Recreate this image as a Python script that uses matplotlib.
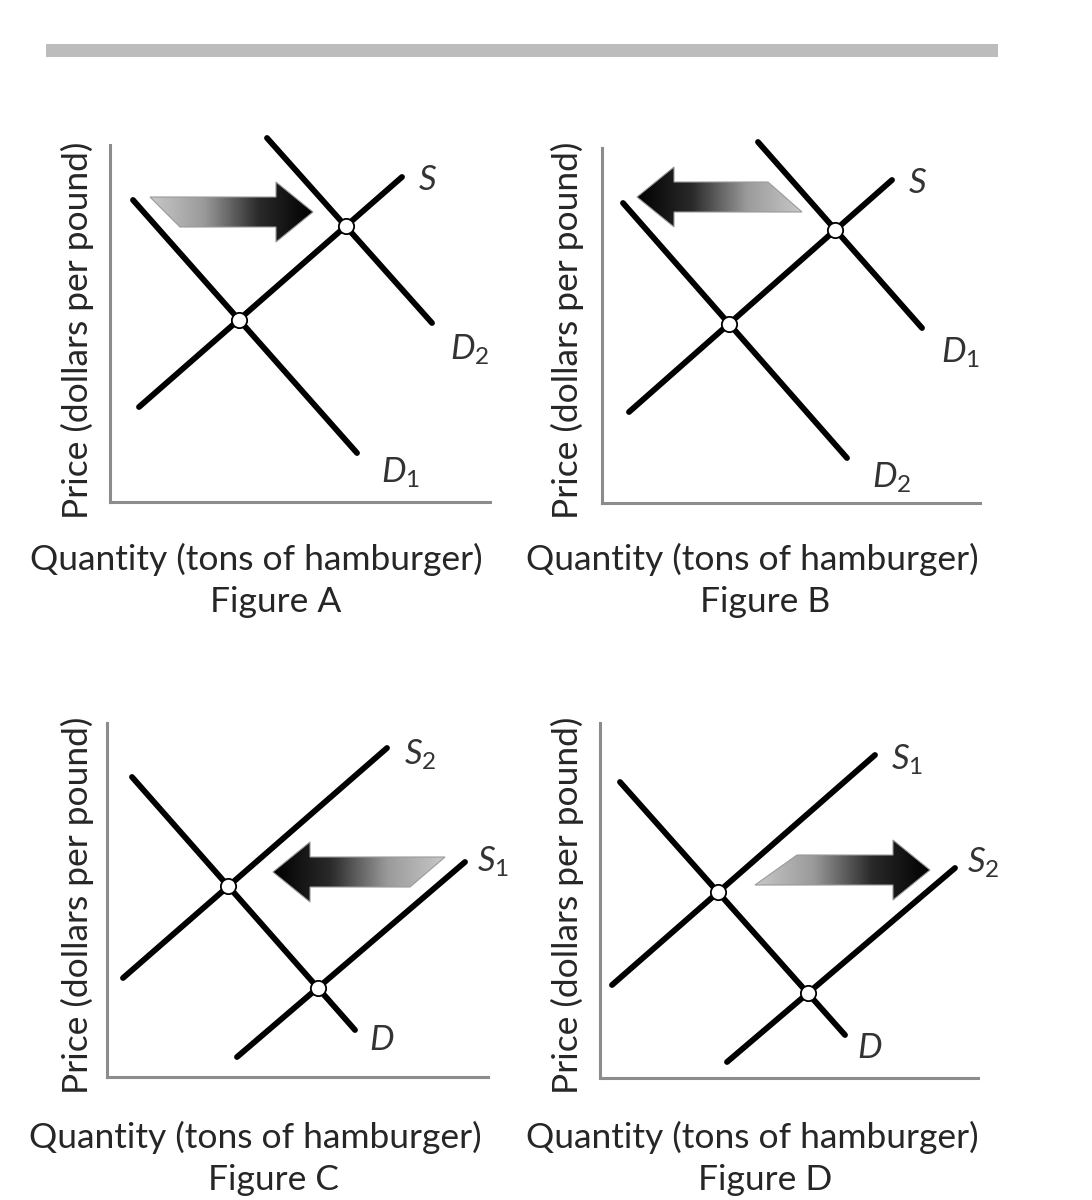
import numpy as np
import matplotlib.pyplot as plt
from matplotlib.path import Path
from matplotlib.patches import PathPatch, Rectangle
from matplotlib.colors import LinearSegmentedColormap

plt.rcParams['font.family'] = ['Lato', 'DejaVu Sans']
plt.rcParams['mathtext.fontset'] = 'custom'
plt.rcParams['mathtext.it'] = 'Lato:italic'
plt.rcParams['mathtext.rm'] = 'Lato'

W, H = 1092, 1200

# --- data (quantity / price in arbitrary units) ---
panels = ["A", "B", "C", "D"]
x_label = "Quantity (tons of hamburger)"
y_label = "Price (dollars per pound)"

# each curve: label, start point (q, p), end point (q, p)
curves_A = [("D_1", (2.3, 30.2), (24.7, 4.9)),
            ("S", (2.9, 9.5), (29.2, 32.5)),
            ("D_2", (15.7, 36.4), (32.2, 17.9))]
curves_B = [("D_2", (2.1, 30.0), (24.5, 4.5)),
            ("S", (2.7, 9.1), (29.0, 32.3)),
            ("D_1", (15.6, 36.1), (32.0, 17.5))]
curves_C = [("D", (2.5, 30.0), (24.8, 4.7)),
            ("S_2", (1.6, 9.9), (28.0, 32.9)),
            ("S_1", (13.0, 2.0), (35.8, 21.5))]
curves_D = [("D", (2.0, 29.6), (24.5, 4.3)),
            ("S_1", (1.2, 9.3), (27.5, 32.3)),
            ("S_2", (12.7, 1.6), (35.5, 21.0))]
all_curves = [curves_A, curves_B, curves_C, curves_D]

# shift arrows: tail top q, tail bottom q, tip q, price level
shifts = [(4.0, 7.0, 20.3, 29.0),
          (16.6, 20.0, 3.5, 30.6),
          (33.8, 30.3, 16.6, 20.5),
          (19.7, 15.5, 33.0, 20.8)]

# --- layout (pixels) ---
origins = [(110, 502), (602, 503), (107, 1077), (600, 1078)]
axis_len = [(380, 357), (378, 355), (381, 354), (378, 355)]
label_off = [{"D_1": (4.3, -2.0), "S": (2.6, -0.3), "D_2": (3.8, -2.7)},
             {"D_2": (4.5, -2.0), "S": (2.6, -0.3), "D_1": (3.8, -2.5)},
             {"D": (2.7, -1.0), "S_2": (3.3, -0.7), "S_1": (2.8, 0.0)},
             {"D": (2.5, -1.3), "S_1": (3.2, -0.5), "S_2": (2.8, 0.5)}]
xlab_pos = [(30, 570), (526, 570), (29, 1148), (526, 1148)]
fig_pos = [(276, 612), (765, 612), (273, 1190), (765, 1190)]
ylab_pos = [(77, 330), (567, 330), (77, 905), (567, 905)]

ink = "#262626"
arrow_cmap = LinearSegmentedColormap.from_list("arr", ["#c8c8c8", "#9a9a9a", "#2a2a2a", "#000000"])


def intersect(a, b):
    (x1, y1), (x2, y2) = a
    (x3, y3), (x4, y4) = b
    m1 = (y2 - y1) / (x2 - x1)
    m2 = (y4 - y3) / (x4 - x3)
    x = (y3 - y1 + m1 * x1 - m2 * x3) / (m1 - m2)
    return x, y1 + m1 * (x - x1)


def draw_arrow(ax, top_q, bot_q, tip_q, p):
    d = 1 if tip_q > top_q else -1
    base = tip_q - d * 3.7
    verts = [(top_q, p + 1.5), (base, p + 1.5), (base, p + 3.0), (tip_q, p),
             (base, p - 3.0), (base, p - 1.5), (bot_q, p - 1.5), (top_q, p + 1.5)]
    codes = [Path.MOVETO] + [Path.LINETO] * 6 + [Path.CLOSEPOLY]
    patch = PathPatch(Path(verts, codes), facecolor="none", edgecolor="#9a9a9a",
                      lw=0.8, zorder=4)
    ax.add_patch(patch)
    grad = np.linspace(0, 1, 256).reshape(1, -1)
    if d < 0:
        grad = grad[:, ::-1]
    xs = [v[0] for v in verts]
    im = ax.imshow(grad, extent=[min(xs), max(xs), p - 3.0, p + 3.0], cmap=arrow_cmap,
                   aspect="auto", zorder=3, interpolation="bilinear")
    im.set_clip_path(patch)


fig = plt.figure(figsize=(W / 100, H / 100), dpi=100)
fig.add_artist(Rectangle((46 / W, 1 - 57 / H), 952 / W, 13 / H, transform=fig.transFigure,
                         facecolor="#bcbcbc", edgecolor="none"))

for i, name in enumerate(panels):
    ox, oy = origins[i]
    lx, ly = axis_len[i]
    ax = fig.add_axes([ox / W, 1 - oy / H, lx / W, ly / H])
    ax.patch.set_alpha(0)
    for s in ["top", "right"]:
        ax.spines[s].set_visible(False)
    for s in ["left", "bottom"]:
        ax.spines[s].set_color("#8c8c8c")
        ax.spines[s].set_linewidth(2.2)
    ax.set_xticks([])
    ax.set_yticks([])

    curves = all_curves[i]
    for lab, p0, p1 in curves:
        ax.plot([p0[0], p1[0]], [p0[1], p1[1]], color="black", lw=4.2,
                solid_capstyle="round", clip_on=False, zorder=2)
        dx, dy = label_off[i][lab]
        txt = "$" + lab + "$"
        ax.text(p1[0] + dx, p1[1] + dy, txt, fontsize=25, color="#333333",
                ha="center", va="center", clip_on=False)

    demand = [(c[1], c[2]) for c in curves if c[0].startswith("D")]
    supply = [(c[1], c[2]) for c in curves if c[0].startswith("S")]
    for dcur in demand:
        for scur in supply:
            q, p = intersect(dcur, scur)
            ax.plot(q, p, "o", ms=11, mfc="white", mec="black", mew=1.3,
                    zorder=5, clip_on=False)

    draw_arrow(ax, *shifts[i])
    ax.set_xlim(0, lx / 10)
    ax.set_ylim(0, ly / 10)

    fig.text(xlab_pos[i][0] / W, 1 - xlab_pos[i][1] / H, x_label, fontsize=25.5,
             color=ink, ha="left", va="baseline")
    fig.text(fig_pos[i][0] / W, 1 - fig_pos[i][1] / H, "Figure " + name, fontsize=25.5,
             color=ink, ha="center", va="baseline")
    fig.text(ylab_pos[i][0] / W, 1 - ylab_pos[i][1] / H, y_label, fontsize=25.5,
             color=ink, ha="center", va="center", rotation=90)

fig.savefig("out.png", dpi=100, facecolor="white")
